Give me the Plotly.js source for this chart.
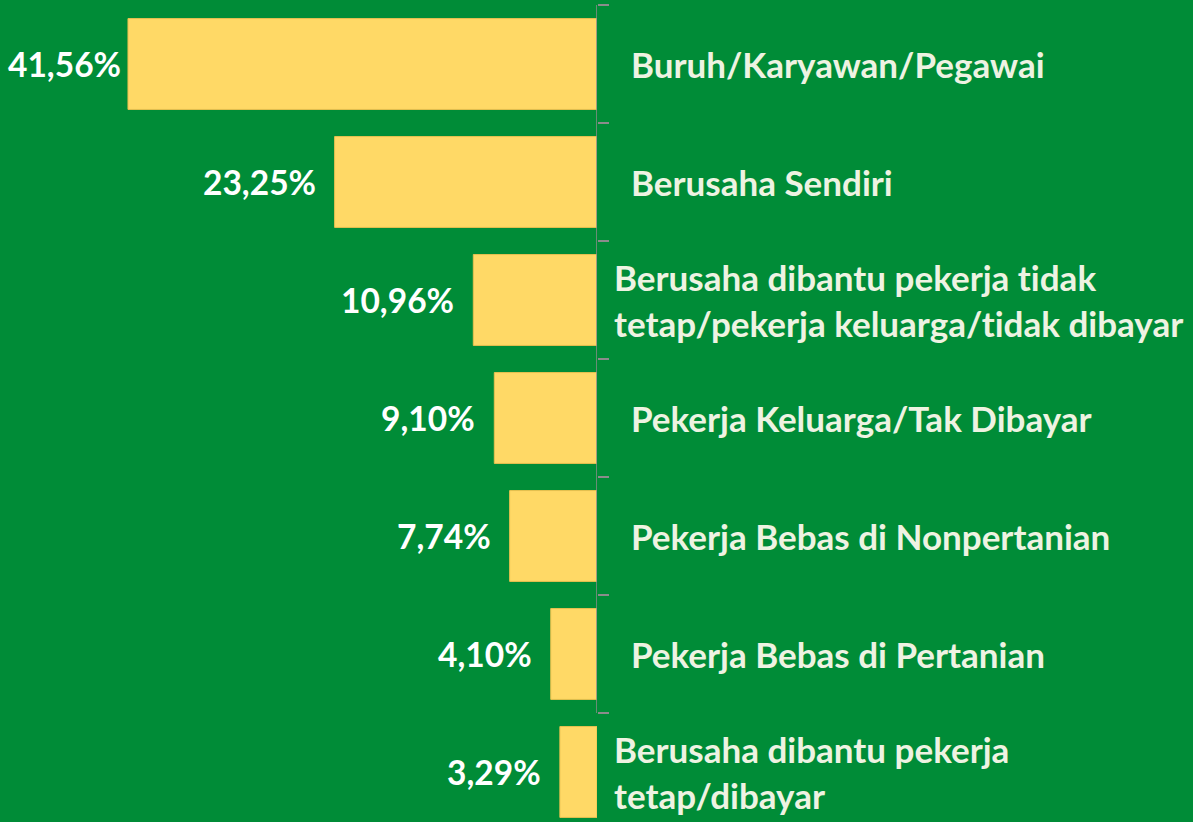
<!DOCTYPE html>
<html>
<head>
<meta charset="utf-8">
<script src="https://cdn.plot.ly/plotly-3.0.1.min.js"></script>
<style>
html,body{margin:0;padding:0;background:#008C37;}
#chart{width:1193px;height:822px;}
#chart text{font-variant-ligatures:none;font-feature-settings:"liga" 0;}
</style>
</head>
<body>
<div id="chart"></div>
<script>
const categories = [
  "Buruh/Karyawan/Pegawai",
  "Berusaha Sendiri",
  "Berusaha dibantu pekerja tidak<br>tetap/pekerja keluarga/tidak dibayar",
  "Pekerja Keluarga/Tak Dibayar",
  "Pekerja Bebas di Nonpertanian",
  "Pekerja Bebas di Pertanian",
  "Berusaha dibantu pekerja<br>tetap/dibayar"
];
const values = [41.56, 23.25, 10.96, 9.10, 7.74, 4.10, 3.29];
const valueLabels = ["41,56%", "23,25%", "10,96%", "9,10%", "7,74%", "4,10%", "3,29%"];

const FONT = "Lato, 'Open Sans', sans-serif";
const GREEN = "#008C37";

const annotations = [];
values.forEach((v, i) => {
  annotations.push({
    x: v, y: i, xref: "x", yref: "y",
    text: "<b>" + valueLabels[i] + "</b>",
    showarrow: false, xanchor: "right", yanchor: "middle",
    xshift: i === 0 ? -5 : -17,
    font: {family: FONT, size: 33.5, color: "#FFFFFF"}
  });
  const multi = categories[i].indexOf("<br>") >= 0;
  annotations.push({
    x: 0, y: i, xref: "x", yref: "y",
    text: "<b>" + categories[i] + "</b>",
    showarrow: false, xanchor: "left", yanchor: "middle", align: "left",
    xshift: multi ? 15 : 32,
    font: {family: FONT, size: 35, color: "#EEF3E2"}
  });
});

const trace = {
  type: "bar", orientation: "h",
  x: values, y: categories.map((c, i) => i),
  marker: {color: "#FFD966", line: {color: "#E8C050", width: 1}},
  width: 0.77,
  hoverinfo: "skip"
};

const layout = {
  width: 1193, height: 822,
  paper_bgcolor: GREEN, plot_bgcolor: GREEN,
  margin: {l: 0, r: 596, t: 5, b: 0},
  showlegend: false,
  xaxis: {
    range: [52.9, 0], showgrid: false, zeroline: false,
    showticklabels: false, ticks: "", showline: false, fixedrange: true
  },
  yaxis: {
    range: [6.424, -0.5], side: "right",
    tickmode: "array", tickvals: [-0.5, 0.5, 1.5, 2.5, 3.5, 4.5, 5.5],
    ticktext: ["", "", "", "", "", "", ""],
    ticks: "outside", ticklen: 11, tickcolor: "#8C8C8C", tickwidth: 1.5,
    showgrid: false, zeroline: false, showline: false, fixedrange: true
  },
  shapes: [{
    type: "line", xref: "x", yref: "y",
    x0: 0, x1: 0, y0: -0.5, y1: 5.5,
    line: {color: "#8C8C8C", width: 1.5}
  }],
  annotations: annotations
};

Plotly.newPlot("chart", [trace], layout, {displayModeBar: false, staticPlot: true});
</script>
</body>
</html>
